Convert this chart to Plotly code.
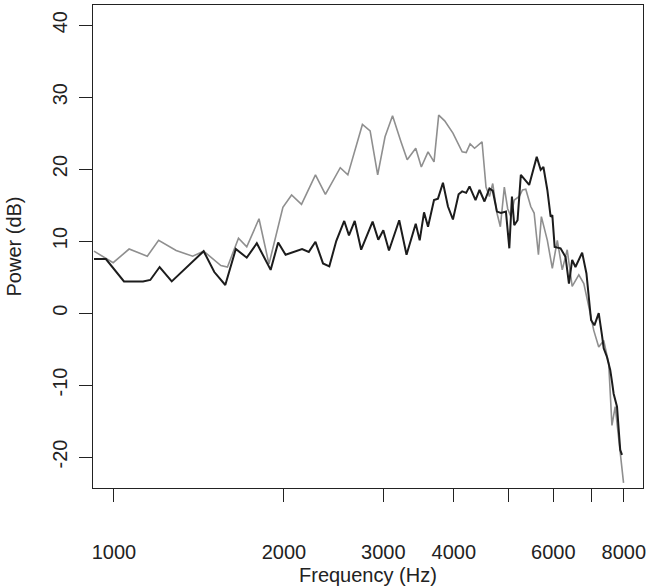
import plotly.graph_objects as go

# Gray spectrum
gray_freq = [922, 997, 1064, 1146, 1200, 1289, 1379, 1442, 1547, 1589, 1662, 1719, 1807, 1882, 1992,
             2064, 2149, 2275, 2369, 2517, 2596, 2755, 2843, 2932, 3021, 3115, 3224, 3307, 3424, 3503,
             3600, 3689, 3760, 3853, 3985, 4138, 4206, 4274, 4352, 4487, 4560, 4624, 4687, 4768, 4835,
             4914, 4981, 5047, 5117, 5222, 5292, 5363, 5473, 5549, 5647, 5715, 5856, 5976, 6099, 6223,
             6350, 6480, 6658, 6795, 6934, 7076, 7221, 7369, 7520, 7621, 7723, 7830, 7882, 7990]
gray_db = [8.6, 7.0, 8.9, 7.9, 10.1, 8.7, 7.9, 8.6, 6.6, 6.4, 10.4, 9.2, 13.1, 6.8, 14.7,
           16.4, 15.1, 19.2, 16.5, 20.2, 19.2, 26.2, 25.3, 19.2, 24.5, 27.4, 23.8, 21.3, 22.9, 20.3,
           22.4, 21.0, 27.5, 26.7, 25.0, 22.4, 22.3, 23.5, 22.9, 23.8, 17.5, 16.2, 18.0, 13.9, 12.0,
           17.5, 14.5, 13.4, 15.7, 16.2, 17.1, 17.2, 14.8, 13.9, 8.1, 13.4, 10.1, 6.2, 10.1, 6.0,
           8.8, 3.7, 5.3, 4.1, 0.9, -2.4, -4.7, -3.8, -7.0, -15.6, -13.0, -17.2, -20.0, -23.6]

# Black spectrum
black_freq = [922, 968, 1042, 1126, 1160, 1205, 1266, 1442, 1506, 1575, 1644, 1719, 1791, 1895, 1954,
              2014, 2154, 2214, 2275, 2346, 2407, 2476, 2558, 2608, 2670, 2741, 2872, 2939, 3000, 3070,
              3201, 3298, 3424, 3480, 3542, 3600, 3689, 3749, 3826, 3905, 3985, 4078, 4138, 4206, 4264,
              4369, 4441, 4532, 4624, 4687, 4768, 4847, 4946, 5015, 5069, 5117, 5186, 5256, 5438, 5608,
              5699, 5763, 5856, 5935, 5976, 6033, 6180, 6307, 6395, 6480, 6567, 6749, 6868, 6934, 7000,
              7094, 7221, 7318, 7369, 7468, 7568, 7621, 7674, 7780, 7830, 7882, 7940]
black_db = [7.5, 7.5, 4.4, 4.4, 4.6, 6.4, 4.4, 8.6, 5.7, 3.9, 8.9, 7.7, 9.7, 6.0, 9.8,
            8.1, 8.9, 8.5, 9.9, 6.9, 6.5, 10.0, 12.8, 10.8, 12.8, 8.8, 12.7, 10.2, 11.5, 8.7,
            12.9, 8.1, 12.4, 10.1, 14.0, 12.0, 15.7, 15.9, 18.1, 14.8, 13.0, 16.5, 16.9, 16.7, 17.6,
            15.7, 17.1, 15.5, 17.3, 17.0, 14.1, 13.9, 14.1, 9.0, 16.2, 12.2, 12.9, 19.2, 17.8, 21.7,
            19.9, 20.3, 17.1, 13.4, 13.6, 9.2, 9.0, 7.8, 4.1, 7.4, 6.4, 8.4, 5.5, 1.8, -1.0,
            -1.7, 0.0, -3.1, -4.9, -6.1, -7.9, -9.5, -11.2, -13.0, -16.7, -19.0, -19.7]

x_tick_vals = [1000, 2000, 3000, 4000, 5000, 6000, 7000, 8000]
x_tick_text = ["1000", "2000", "3000", "4000", "", "6000", "", "8000"]
y_tick_vals = [-20, -10, 0, 10, 20, 30, 40]
y_tick_text = ["-20", "-10", "0", "10", "20", "30", "40"]

FONT = "Liberation Sans Narrow, Arial Narrow, Liberation Sans, Arial, sans-serif"
INK = "#222222"

fig = go.Figure()
fig.add_trace(go.Scatter(x=gray_freq, y=gray_db, mode="lines",
                         line=dict(color="#8f8f8f", width=1.6), showlegend=False))
fig.add_trace(go.Scatter(x=black_freq, y=black_db, mode="lines",
                         line=dict(color="#1c1c1c", width=2.0), showlegend=False))

fig.update_layout(
    width=647, height=586,
    margin=dict(l=93, r=1, t=5, b=98),
    paper_bgcolor="white", plot_bgcolor="white",
    font=dict(family=FONT, size=20, color=INK),
    annotations=[
        dict(text="Frequency (Hz)", xref="paper", yref="paper", x=0.5, y=0,
             xanchor="center", yanchor="middle", yshift=-87, showarrow=False,
             font=dict(family=FONT, size=20, color=INK)),
        dict(text="Power (dB)", xref="paper", yref="paper", x=0, y=0.5,
             xanchor="center", yanchor="middle", xshift=-80, textangle=-90,
             showarrow=False, font=dict(family=FONT, size=20, color=INK)),
    ],
)
fig.update_xaxes(
    type="log", range=[2.963, 3.937],
    tickvals=x_tick_vals, ticktext=x_tick_text,
    showline=True, mirror=True, linecolor=INK, linewidth=1,
    ticks="outside", ticklen=13, tickwidth=1, tickcolor=INK,
    ticklabelstandoff=33, ticklabeloverflow="allow",
    showgrid=False, zeroline=False,
)
fig.update_yaxes(
    range=[-24.3, 42.8],
    tickvals=y_tick_vals, ticktext=y_tick_text, tickangle=-90,
    showline=True, mirror=True, linecolor=INK, linewidth=1,
    ticks="outside", ticklen=13, tickwidth=1, tickcolor=INK,
    ticklabelstandoff=4, ticklabeloverflow="allow",
    showgrid=False, zeroline=False,
)

fig.write_html(
    "out.html",
    config={"displayModeBar": False},
    post_script="document.body.style.margin='0';document.body.style.overflow='hidden';",
)
